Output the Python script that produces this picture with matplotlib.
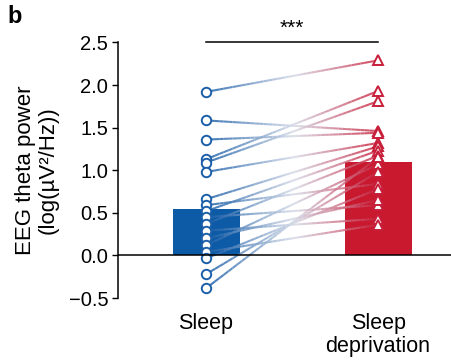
import numpy as np
import matplotlib
matplotlib.use("Agg")
import matplotlib.pyplot as plt
from matplotlib.collections import LineCollection
from matplotlib.colors import LinearSegmentedColormap

plt.rcParams['font.family'] = ['Liberation Sans', 'DejaVu Sans']

# data
conditions = ["Sleep", "Sleep\ndeprivation"]
bar_means = [0.54, 1.10]
sleep_vals = [1.92, 1.585, 1.36, 1.13, 1.09, 0.98, 0.66, 0.59, 0.52,
              0.45, 0.37, 0.29, 0.20, 0.12, 0.04, -0.035, -0.22, -0.385]
depriv_vals = [2.29, 1.46, 1.44, 1.93, 1.81, 1.32, 1.28, 0.84, 1.23,
               0.59, 1.17, 0.43, 0.65, 1.07, 0.36, 0.78, 0.98, 1.15]
y_ticks = [-0.5, 0.0, 0.5, 1.0, 1.5, 2.0, 2.5]

blue = '#0d5ba6'
red = '#c8192f'
cmap = LinearSegmentedColormap.from_list('br', ['#1b5fa8', '#d6dbe8', '#c81e3a'])

fig = plt.figure(figsize=(4.51, 3.63), dpi=100)
ax = fig.add_axes([0.2616, 0.179, 0.7384, 0.704])

x = np.arange(len(conditions))
ax.bar(x, bar_means, width=0.39, color=[blue, red], zorder=1)

# gradient lines between paired points
t = np.linspace(0, 1, 40)
for s, d in zip(sleep_vals, depriv_vals):
    xs = x[0] + (x[1] - x[0]) * t
    ys = s + (d - s) * t
    pts = np.array([xs, ys]).T.reshape(-1, 1, 2)
    segs = np.concatenate([pts[:-1], pts[1:]], axis=1)
    lc = LineCollection(segs, colors=cmap(t[:-1]), linewidths=1.5, alpha=0.85, zorder=2)
    ax.add_collection(lc)

ax.plot(np.full(len(sleep_vals), x[0]), sleep_vals, 'o', ms=6.8, mfc='white',
        mec='#1b5fa8', mew=1.4, zorder=3)
ax.plot(np.full(len(depriv_vals), x[1]), depriv_vals, '^', ms=6.8, mfc='white',
        mec='#c81e3a', mew=1.4, zorder=3)

ax.axhline(0, color='black', lw=1.1, zorder=4)

# significance bar
ax.plot([x[0], x[1]], [2.5, 2.5], color='black', lw=1.1, clip_on=False)
ax.text((x[0] + x[1]) / 2, 2.56, '***', ha='center', va='bottom', fontsize=15, clip_on=False)

ax.set_xlim(-0.512, 1.424)
ax.set_ylim(-0.5, 2.5)
ax.set_yticks(y_ticks)
ax.set_yticklabels(['\u22120.5', '0.0', '0.5', '1.0', '1.5', '2.0', '2.5'], fontsize=14.5)
ax.set_xticks(x)
ax.set_xticklabels(conditions, fontsize=15.5, linespacing=1.1)
ax.tick_params(axis='x', length=0, pad=11)
ax.tick_params(axis='y', length=4, width=1, pad=3)

for side in ['top', 'right', 'bottom']:
    ax.spines[side].set_visible(False)
ax.spines['left'].set_linewidth(1.1)
ax.spines['left'].set_bounds(-0.5, 2.5)

ax.set_ylabel('EEG theta power\n(log(\u00b5V\u00b2/Hz))', fontsize=16, linespacing=1.15, labelpad=7)

fig.text(0.016, 0.985, 'b', fontsize=17, fontweight='bold', va='top')

fig.savefig('out.png', dpi=100)
